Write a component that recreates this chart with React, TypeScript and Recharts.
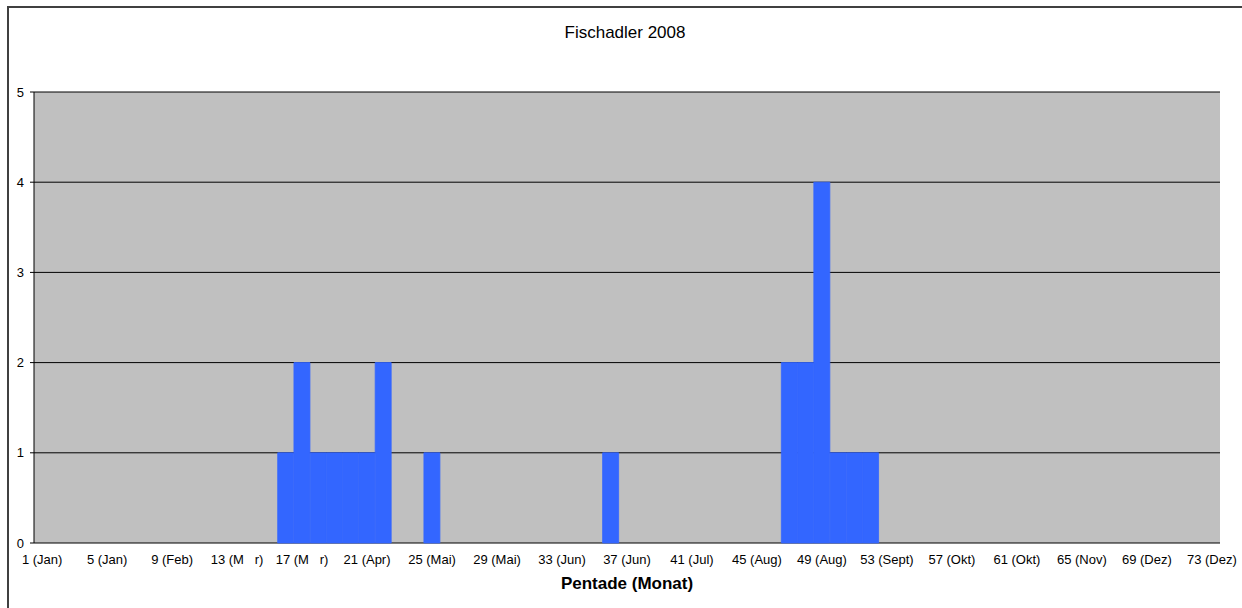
import { Bar, BarChart, CartesianGrid, XAxis, YAxis } from "recharts";

// Fischadler sightings per pentade, 2008 (pentade 1 .. 73)
const counts = [
    0, 0, 0, 0, 0, 0, 0, 0, 0, 0,
    0, 0, 0, 0, 0, 1, 2, 1, 1, 1,
    1, 2, 0, 0, 1, 0, 0, 0, 0, 0,
    0, 0, 0, 0, 0, 1, 0, 0, 0, 0,
    0, 0, 0, 0, 0, 0, 2, 2, 4, 1,
    1, 1, 0, 0, 0, 0, 0, 0, 0, 0,
    0, 0, 0, 0, 0, 0, 0, 0, 0, 0,
    0, 0, 0,
];

// labels shown on every fourth pentade
const tickLabels = [
    "1 (Jan)", "5 (Jan)", "9 (Feb)", "13 (M\u00a0\u00a0\u00a0r)", "17 (M\u00a0\u00a0\u00a0r)", "21 (Apr)",
    "25 (Mai)", "29 (Mai)", "33 (Jun)", "37 (Jun)", "41 (Jul)", "45 (Aug)", "49 (Aug)",
    "53 (Sept)", "57 (Okt)", "61 (Okt)", "65 (Nov)", "69 (Dez)", "73 (Dez)",
];

const yTicks = [0, 1, 2, 3, 4, 5];

const data = counts.map((value, i) => ({ pentade: i + 1, value }));
const edgeTicks = counts.map((_, i) => i).concat(counts.length);

const font = "'Liberation Sans', Arial, sans-serif";

export default function App() {
    return (
        <div style={{ position: "fixed", left: 0, top: 0, width: 1242, height: 608, overflow: "hidden", background: "#fff", fontFamily: font }}>
            <div style={{ position: "absolute", left: 7, top: 6, width: 1300, height: 700, border: "2px solid #404040" }} />
            <div style={{ position: "absolute", left: 0, width: 1250, top: 23, textAlign: "center", fontSize: 17, color: "#000" }}>
                Fischadler 2008
            </div>
            <div style={{ position: "absolute", left: 0, top: 0 }}>
                <BarChart
                    width={1242}
                    height={608}
                    data={data}
                    barCategoryGap={0}
                    barGap={0}
                    margin={{ top: 92, right: 22, bottom: 17, left: 0 }}
                >
                    <CartesianGrid xAxisId="cat" yAxisId="left" vertical={false} stroke="#000" fill="#C0C0C0" fillOpacity={1} />
                    <XAxis
                        xAxisId="edges"
                        type="number"
                        dataKey="pentade"
                        domain={[0, counts.length]}
                        ticks={edgeTicks}
                        interval={0}
                        height={0}
                        tickSize={4}
                        tickFormatter={() => ""}
                        axisLine={{ stroke: "#000" }}
                        tickLine={{ stroke: "#000" }}
                    />
                    <XAxis
                        xAxisId="cat"
                        dataKey="pentade"
                        interval={0}
                        height={48}
                        axisLine={false}
                        tickLine={false}
                        tickSize={0}
                        tickMargin={12}
                        tick={{ fontSize: 13, fill: "#000", fontFamily: font }}
                        tickFormatter={(p: number) => ((p - 1) % 4 === 0 ? tickLabels[(p - 1) / 4] : "")}
                        label={{ value: "Pentade (Monat)", position: "insideBottom", offset: 2, fontSize: 17, fontWeight: "bold", fill: "#000", fontFamily: font }}
                    />
                    <YAxis
                        yAxisId="left"
                        width={34}
                        domain={[0, 5]}
                        ticks={yTicks}
                        interval={0}
                        tickSize={4}
                        tickMargin={6}
                        axisLine={{ stroke: "#000" }}
                        tickLine={{ stroke: "#000" }}
                        tick={{ fontSize: 13, fill: "#000", fontFamily: font }}
                    />
                    <YAxis
                        yAxisId="right"
                        orientation="right"
                        width={0}
                        domain={[0, 5]}
                        tick={false}
                        tickLine={false}
                        axisLine={{ stroke: "#808080" }}
                    />
                    <Bar xAxisId="cat" yAxisId="left" dataKey="value" fill="#3366FF" stroke="#3366FF" strokeWidth={0.8} isAnimationActive={false} />
                </BarChart>
            </div>
        </div>
    );
}
